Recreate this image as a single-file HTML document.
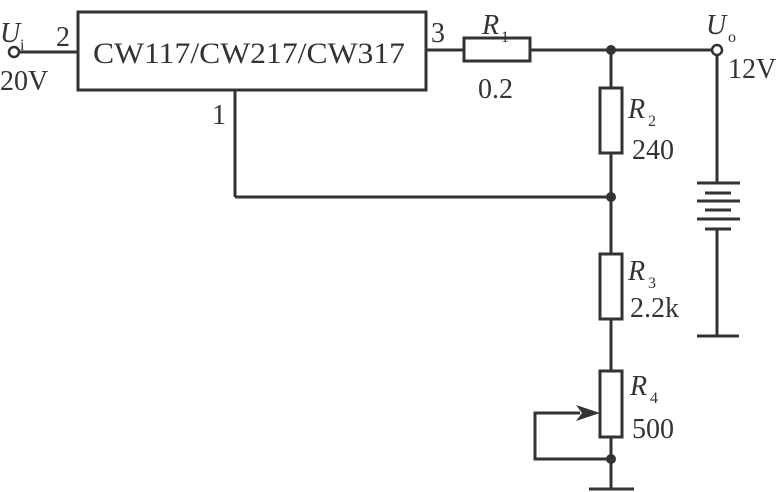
<!DOCTYPE html>
<html><head><meta charset="utf-8"><style>html,body{margin:0;padding:0;background:#fff}svg{display:block}</style></head>
<body>
<svg width="779" height="492" viewBox="0 0 779 492" xmlns="http://www.w3.org/2000/svg">
<g stroke="#333" stroke-width="3" fill="none">
<rect x="78" y="12" width="348" height="78"/>
<line x1="19" y1="52" x2="78" y2="52"/>
<circle cx="14" cy="52" r="5" stroke-width="2.5"/>
<line x1="426" y1="50" x2="464" y2="50"/>
<rect x="464" y="38" width="66" height="23"/>
<line x1="530" y1="50" x2="712" y2="50"/>
<circle cx="717" cy="50" r="5" stroke-width="2.5"/>
<line x1="717" y1="55" x2="717" y2="183"/>
<line x1="611" y1="50" x2="611" y2="88"/>
<rect x="600" y="88" width="22" height="65"/>
<line x1="611" y1="153" x2="611" y2="254"/>
<line x1="235" y1="90" x2="235" y2="197"/>
<line x1="235" y1="197" x2="611" y2="197"/>
<rect x="600" y="254" width="22" height="65"/>
<line x1="611" y1="319" x2="611" y2="371"/>
<rect x="600" y="371" width="22" height="66"/>
<line x1="611" y1="437" x2="611" y2="489"/>
<polyline points="580,413 535,413 535,459 611,459"/>
<line x1="589" y1="489" x2="634" y2="489"/>
<line x1="697" y1="183" x2="740" y2="183"/>
<line x1="705" y1="193" x2="731" y2="193"/>
<line x1="697" y1="201" x2="740" y2="201"/>
<line x1="705" y1="210" x2="731" y2="210"/>
<line x1="697" y1="219" x2="740" y2="219"/>
<line x1="705" y1="229" x2="731" y2="229"/>
<line x1="717" y1="229" x2="717" y2="336"/>
<line x1="697" y1="336" x2="739" y2="336"/>
</g>
<polygon points="600,413 576,405 582,413 576,421" fill="#333"/>
<g fill="#333">
<circle cx="611" cy="50" r="5"/>
<circle cx="611" cy="197" r="5"/>
<circle cx="611" cy="459" r="5"/>
</g>
<g font-family="Liberation Serif, serif" fill="#333" font-size="28">
<text x="93" y="63" font-size="30" textLength="312" lengthAdjust="spacingAndGlyphs">CW117/CW217/CW317</text>
<text x="0" y="42" font-style="italic">U</text><text x="20" y="50" font-size="16">i</text>
<text x="56" y="46">2</text>
<text x="0" y="90">20V</text>
<text x="431" y="42">3</text>
<text x="212" y="124">1</text>
<text x="482" y="34" font-style="italic">R</text><text x="501" y="42" font-size="16">1</text>
<text x="478" y="98">0.2</text>
<text x="628" y="118" font-style="italic">R</text><text x="648" y="126" font-size="16">2</text>
<text x="632" y="159">240</text>
<text x="628" y="280" font-style="italic">R</text><text x="648" y="288" font-size="16">3</text>
<text x="630" y="317">2.2k</text>
<text x="630" y="395" font-style="italic">R</text><text x="650" y="403" font-size="16">4</text>
<text x="632" y="438">500</text>
<text x="706" y="34" font-style="italic">U</text><text x="728" y="42" font-size="16">o</text>
<text x="728" y="78">12V</text>
</g>
</svg>
</body></html>
